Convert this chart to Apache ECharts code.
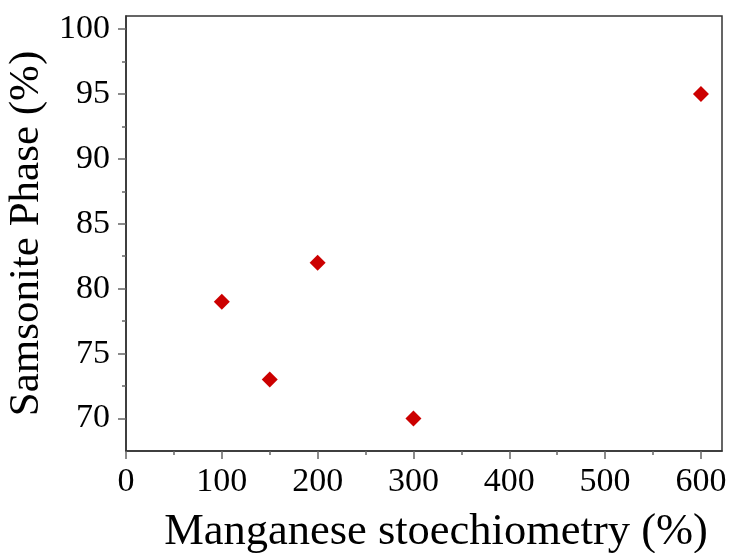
<!DOCTYPE html>
<html>
<head>
<meta charset="utf-8">
<script src="https://cdn.jsdelivr.net/npm/echarts@6/dist/echarts.min.js"></script>
<style>
html,body{margin:0;padding:0;background:#fff;}
#c{width:730px;height:553px;}
</style>
</head>
<body>
<div id="c"></div>
<script>
const xValues = [100, 150, 200, 300, 600];
const yValues = [79, 73, 82, 70, 95];
const xTicks = [0, 100, 200, 300, 400, 500, 600];
const xMinorTicks = [50, 150, 250, 350, 450, 550];
const yTicks = [70, 75, 80, 85, 90, 95, 100];
const yMinorTicks = [72.5, 77.5, 82.5, 87.5, 92.5, 97.5];
const xTitle = 'Manganese stoechiometry (%)';
const yTitle = 'Samsonite Phase (%)';

const FONT = "'Liberation Serif', 'DejaVu Serif', serif";
const xMin = 0, xMax = 622, yMin = 67.5, yMax = 101;
const axisColor = '#333';

const points = xValues.map((x, i) => [x, yValues[i]]);

const chart = echarts.init(document.getElementById('c'), null, {renderer: 'canvas'});
chart.setOption({
  animation: false,
  backgroundColor: '#fff',
  grid: {left: 126, right: 8, top: 16, bottom: 102, containLabel: false, outerBoundsMode: 'none',
         show: true, borderColor: axisColor, borderWidth: 1.5, backgroundColor: 'transparent'},
  xAxis: [
    {
      type: 'value', min: xMin, max: xMax, position: 'bottom',
      name: xTitle, nameLocation: 'middle', nameGap: 59,
      nameTextStyle: {fontFamily: FONT, fontSize: 44.5, color: '#000', padding: [0, 0, 0, 24]},
      axisLine: {show: true, lineStyle: {color: axisColor, width: 1.5}},
      axisTick: {show: true, length: 8, inside: false, customValues: xTicks, lineStyle: {color: '#666', width: 1.5}},
      axisLabel: {show: true, margin: 14, customValues: xTicks, fontFamily: FONT, fontSize: 34, color: '#000'},
      splitLine: {show: false}
    },
    {
      type: 'value', min: xMin, max: xMax, position: 'bottom', gridIndex: 0,
      axisLine: {show: false},
      axisTick: {show: true, length: 4, customValues: xMinorTicks, lineStyle: {color: '#666', width: 1.5}},
      axisLabel: {show: false},
      splitLine: {show: false}
    }
  ],
  yAxis: [
    {
      type: 'value', min: yMin, max: yMax, position: 'left',
      name: yTitle, nameLocation: 'middle', nameGap: 75, nameRotate: 90,
      nameTextStyle: {fontFamily: FONT, fontSize: 43, color: '#000'},
      axisLine: {show: true, lineStyle: {color: axisColor, width: 1.5}},
      axisTick: {show: true, length: 8, customValues: yTicks, lineStyle: {color: '#666', width: 1.5}},
      axisLabel: {show: true, margin: 16, customValues: yTicks, fontFamily: FONT, fontSize: 34, color: '#000'},
      splitLine: {show: false}
    },
    {
      type: 'value', min: yMin, max: yMax, position: 'left',
      axisLine: {show: false},
      axisTick: {show: true, length: 4, customValues: yMinorTicks, lineStyle: {color: '#666', width: 1.5}},
      axisLabel: {show: false},
      splitLine: {show: false}
    }
  ],
  series: [{
    type: 'scatter',
    xAxisIndex: 0, yAxisIndex: 0,
    data: points,
    symbol: 'diamond',
    symbolSize: 16,
    itemStyle: {color: '#cc0000', opacity: 1}
  }]
});
</script>
</body>
</html>
